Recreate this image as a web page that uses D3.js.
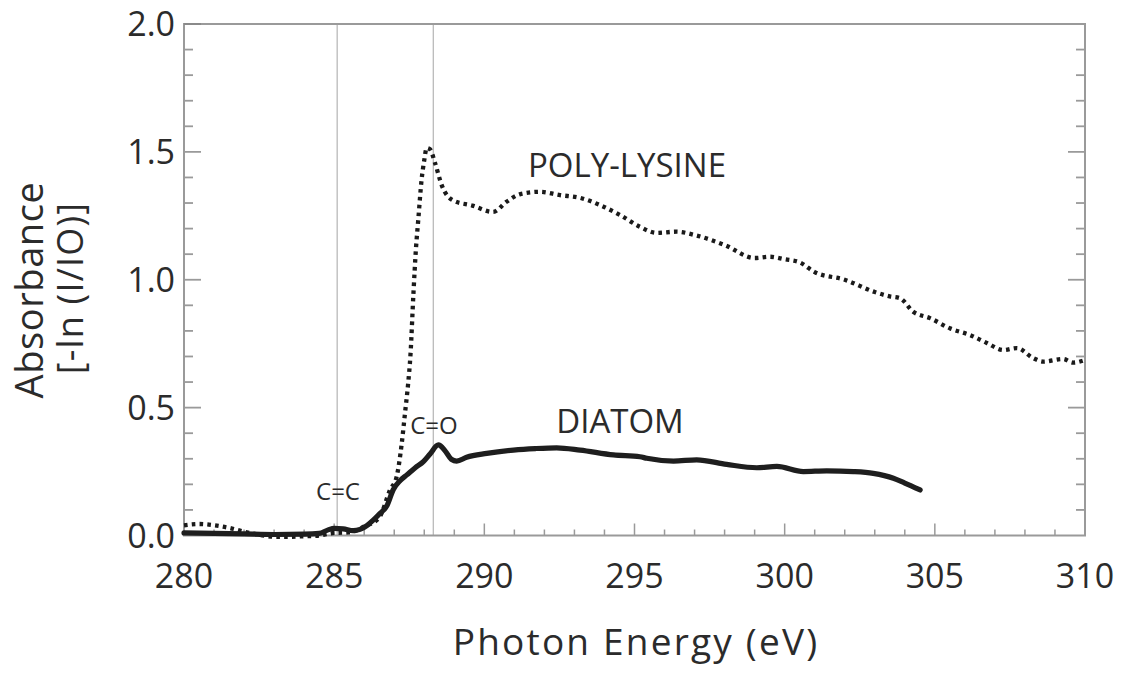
<!DOCTYPE html>
<html>
<head>
<meta charset="utf-8">
<script src="https://cdn.jsdelivr.net/npm/d3@7"></script>
<style>
  html, body { margin: 0; padding: 0; background: #fff; }
  svg { display: block; }
  text { font-family: "Open Sans", "Noto Sans", sans-serif; fill: #2b2b2b; }
</style>
</head>
<body>
<svg id="chart" width="1122" height="673"></svg>
<script>
// ---- data ----
const polyEnergy = [280.0, 280.5, 281.0, 281.5, 282.0, 282.5, 283.0, 283.5, 284.0, 284.5, 285.0, 285.5, 286.0, 286.5, 286.86,
  287.08, 287.25, 287.36, 287.46, 287.54, 287.64, 287.72, 287.8, 287.91, 288.0, 288.08, 288.19, 288.36, 288.58, 288.96,
  289.6, 290.29, 290.74, 291.2, 291.85, 292.52, 293.19, 293.85, 294.52, 295.18, 295.74, 296.4, 297.0, 298.0, 299.0,
  299.5, 300.0, 300.5, 301.0, 302.0, 303.0, 303.5, 303.84, 304.28, 304.84, 305.5, 306.17, 306.73, 307.28, 307.73,
  308.27, 308.6, 309.27, 309.6, 310.0];
const polyAbs = [0.040, 0.045, 0.040, 0.030, 0.015, 0.003, -0.005, -0.005, -0.003, 0.000, 0.010, 0.012, 0.035, 0.070, 0.178,
  0.23, 0.36, 0.48, 0.59, 0.705, 0.948, 1.116, 1.234, 1.39, 1.468, 1.515, 1.51, 1.456, 1.37, 1.31,
  1.29, 1.265, 1.305, 1.335, 1.344, 1.331, 1.32, 1.292, 1.253, 1.207, 1.183, 1.188, 1.175, 1.136, 1.085,
  1.09, 1.08, 1.068, 1.03, 1.0, 0.952, 0.935, 0.928, 0.875, 0.85, 0.81, 0.784, 0.753, 0.725, 0.733,
  0.694, 0.68, 0.69, 0.676, 0.686];

const diatomEnergy = [280.0, 281.0, 282.0, 283.0, 284.0, 284.5, 284.8, 285.0, 285.3, 285.64, 285.86, 286.1, 286.3, 286.53, 286.75,
  286.97, 287.2, 287.42, 287.7, 287.97, 288.2, 288.47, 288.7, 288.9, 289.08, 289.41, 290.08, 290.97, 291.7, 292.41,
  293.19, 294.3, 295.18, 295.41, 296.3, 297.07, 298.07, 299.07, 299.74, 300.62, 301.4, 302.29, 302.95, 303.62, 304.0, 304.51];
const diatomAbs = [0.010, 0.008, 0.006, 0.004, 0.005, 0.008, 0.022, 0.028, 0.026, 0.019, 0.024, 0.040, 0.060, 0.087, 0.115,
  0.180, 0.215, 0.237, 0.265, 0.289, 0.320, 0.354, 0.330, 0.298, 0.291, 0.306, 0.321, 0.334, 0.340, 0.343,
  0.334, 0.315, 0.308, 0.302, 0.291, 0.296, 0.278, 0.265, 0.270, 0.250, 0.253, 0.250, 0.243, 0.224, 0.205, 0.178];

const xTickLabels = [280, 285, 290, 295, 300, 305, 310];
const yTickLabels = [0.0, 0.5, 1.0, 1.5, 2.0];
const peakLines = [285.1, 288.3];
const peakNames = ["C=C", "C=O"];
const seriesNames = ["POLY-LYSINE", "DIATOM"];

// ---- layout ----
const L = 184, R = 1085, T = 24, B = 535.5;
const svg = d3.select("#chart");
const x = d3.scaleLinear().domain([280, 310]).range([L, R]);
const y = d3.scaleLinear().domain([0, 2]).range([B, T]);
const frameCol = "#9a9a9a";

// peak marker lines
svg.selectAll("line.peak").data(peakLines).enter().append("line")
  .attr("x1", d => x(d)).attr("x2", d => x(d))
  .attr("y1", T).attr("y2", B)
  .attr("stroke", "#b4b4b4").attr("stroke-width", 1.2);

// frame
svg.append("rect").attr("x", L).attr("y", T).attr("width", R - L).attr("height", B - T)
  .attr("fill", "none").attr("stroke", frameCol).attr("stroke-width", 2);

// x ticks (inward)
const xMinor = d3.range(281, 310, 1);
svg.selectAll("line.xt").data(xMinor).enter().append("line")
  .attr("x1", d => x(d)).attr("x2", d => x(d))
  .attr("y1", B).attr("y2", d => B - (d % 5 === 0 ? 12 : 6))
  .attr("stroke", frameCol).attr("stroke-width", 1.5);

// y ticks (inward, both sides)
const yMinor = d3.range(1, 20).map(i => i / 10);
[L, R].forEach((xx, side) => {
  svg.selectAll("line.yt" + side).data(yMinor).enter().append("line")
    .attr("y1", d => y(d)).attr("y2", d => y(d))
    .attr("x1", xx)
    .attr("x2", d => {
      const len = (Math.round(d * 10) % 5 === 0) ? 17 : 9;
      return side === 0 ? xx + len : xx - len;
    })
    .attr("stroke", frameCol).attr("stroke-width", 1.8);
});
svg.append("line").attr("x1", L).attr("x2", L + 17).attr("y1", y(2)).attr("y2", y(2))
  .attr("stroke", "#8a8a8a").attr("stroke-width", 2);

// tick labels
svg.selectAll("text.xl").data(xTickLabels).enter().append("text")
  .attr("x", d => x(d)).attr("y", 588)
  .attr("text-anchor", "middle").attr("font-size", 34)
  .text(d => d);
svg.selectAll("text.yl").data(yTickLabels).enter().append("text")
  .attr("x", 175).attr("y", d => y(d)).attr("dy", "0.36em")
  .attr("text-anchor", "end").attr("font-size", 34)
  .text(d => d3.format(".1f")(d));

// axis titles
svg.append("text").attr("x", 636).attr("y", 655)
  .attr("text-anchor", "middle").attr("font-size", 37).attr("letter-spacing", 2.2)
  .text("Photon Energy (eV)");
svg.append("text").attr("transform", "translate(43,290) rotate(-90)")
  .attr("text-anchor", "middle").attr("font-size", 38).attr("letter-spacing", 0.6)
  .text("Absorbance");
svg.append("text").attr("transform", "translate(83,288) rotate(-90)")
  .attr("text-anchor", "middle").attr("font-size", 36).attr("letter-spacing", 1.2)
  .text("[-ln (I/IO)]");

// series
const polyData = polyEnergy.map((e, i) => [e, polyAbs[i]]);
const diatomData = diatomEnergy.map((e, i) => [e, diatomAbs[i]]);
const line = d3.line().x(d => x(d[0])).y(d => y(d[1])).curve(d3.curveMonotoneX);

svg.append("path").datum(polyData).attr("d", line)
  .attr("fill", "none").attr("stroke", "#1a1a1a").attr("stroke-width", 4.3)
  .attr("stroke-dasharray", "3.6,4.2");
svg.append("path").datum(diatomData).attr("d", line)
  .attr("fill", "none").attr("stroke", "#1e1e1e").attr("stroke-width", 5.2)
  .attr("stroke-linejoin", "round").attr("stroke-linecap", "round");

// annotations
svg.append("text").attr("x", 627).attr("y", 177).attr("text-anchor", "middle")
  .attr("font-size", 33).text(seriesNames[0]);
svg.append("text").attr("x", 620).attr("y", 433).attr("text-anchor", "middle")
  .attr("font-size", 33).text(seriesNames[1]);
svg.append("text").attr("x", 338).attr("y", 500).attr("text-anchor", "middle")
  .attr("font-size", 24).text(peakNames[0]);
svg.append("text").attr("x", 434).attr("y", 434).attr("text-anchor", "middle")
  .attr("font-size", 24).text(peakNames[1]);
</script>
</body>
</html>
